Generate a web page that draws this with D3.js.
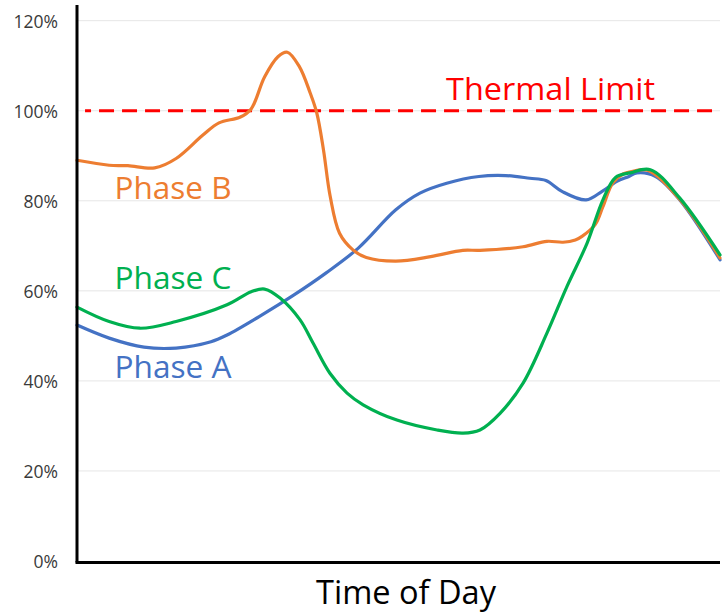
<!DOCTYPE html>
<html>
<head>
<meta charset="utf-8">
<script src="https://cdn.jsdelivr.net/npm/d3@7"></script>
<style>
  html, body { margin: 0; padding: 0; background: #fff; }
  svg { display: block; }
</style>
</head>
<body>
<div id="chart"></div>
<script>
// Load (% of rating) through the day as [hour, value]
const PHASE_A = [
  [0, 52.4], [1.2, 49.5], [2.5, 47.5], [3.7, 47.3], [5.0, 48.7], [5.6, 50.2],
  [6.8, 54.3], [8.1, 59.1], [9.3, 64.0], [10.5, 69.5], [11.9, 78.0], [12.8, 81.7],
  [13.8, 83.9], [15.0, 85.4], [16.0, 85.6], [16.9, 85.0], [17.5, 84.5], [18.1, 82.1],
  [19.0, 80.2], [19.6, 82.1], [20.15, 84.3], [20.6, 85.4], [20.9, 86.2], [21.6, 85.4],
  [22.5, 80.2], [24, 66.9]
];
const PHASE_B = [
  [0, 89.0], [1.2, 87.9], [1.9, 87.8], [2.9, 87.3], [3.7, 89.4], [4.7, 94.6],
  [5.3, 97.3], [6.1, 98.6], [6.5, 100.4], [7.0, 107.5], [7.5, 112.0], [7.85, 113.0],
  [8.3, 109.8], [8.7, 104.0], [8.95, 99.5], [9.2, 91.3], [9.45, 81.0], [9.8, 72.8],
  [10.3, 69.1], [10.8, 67.4], [11.9, 66.6], [13.2, 67.6], [14.4, 69.0], [15.04, 69.0],
  [16.65, 69.8], [17.54, 71.0], [18.14, 70.8], [18.6, 71.3], [18.85, 72.1], [19.34, 74.7],
  [19.63, 78.7], [20.0, 84.0], [20.4, 86.0], [20.7, 86.5], [21.3, 86.8], [22.5, 80.3],
  [24, 67.3]
];
const PHASE_C = [
  [0, 56.4], [1.2, 53.2], [2.35, 51.7], [3.7, 53.2], [5.6, 56.9], [6.5, 59.8],
  [7.0, 60.4], [7.58, 58.4], [8.32, 53.6], [8.81, 48.4], [9.44, 41.7], [10.08, 37.3],
  [10.68, 34.7], [11.94, 31.3], [13.44, 29.1], [14.41, 28.4], [15.04, 29.1], [15.79, 32.8],
  [16.65, 39.5], [17.54, 50.6], [18.29, 61.0], [19.04, 70.6], [19.63, 80.2], [20.1, 85.2],
  [20.64, 86.2], [21.4, 86.9], [22.5, 80.6], [24, 68.0]
];
const THERMAL_LIMIT = 100;
const Y_TICKS = [0, 20, 40, 60, 80, 100, 120];

// Series: id, label, colour and where its inline label sits (hour, value at baseline)
const SERIES = [
  { id: 'A', label: 'Phase A', color: '#4472C4', data: PHASE_A, labelAt: [1.4, 40.7] },
  { id: 'B', label: 'Phase B', color: '#ED7D31', data: PHASE_B, labelAt: [1.4, 80.4] },
  { id: 'C', label: 'Phase C', color: '#00B050', data: PHASE_C, labelAt: [1.4, 60.4] },
];

const W = 723, H = 613;
const margin = { top: 5, right: 3, bottom: 50, left: 77 };
const FONT = '"Open Sans", sans-serif';

const svg = d3.select('#chart').append('svg')
  .attr('width', W).attr('height', H);

const x = d3.scaleLinear().domain([0, 24]).range([margin.left, W - margin.right]);
const y = d3.scaleLinear().domain([0, 120]).range([561, 20.7]);

// Gridlines
svg.append('g')
  .selectAll('line')
  .data(Y_TICKS.filter(v => v > 0))
  .join('line')
  .attr('x1', x(0)).attr('x2', x(24))
  .attr('y1', d => y(d)).attr('y2', d => y(d))
  .attr('stroke', '#e6e6e6').attr('stroke-width', 1);

// Y tick labels
const yAxis = svg.append('g')
  .attr('transform', 'translate(58,0)')
  .call(d3.axisLeft(y).tickValues(Y_TICKS).tickSize(0).tickPadding(0).tickFormat(d => d + '%'));
yAxis.select('.domain').remove();
yAxis.selectAll('text')
  .attr('font-family', FONT).attr('font-size', 17.5)
  .attr('fill', '#3a3a3a')
  .attr('dy', '0.36em');

// Thermal limit
svg.append('line')
  .attr('x1', x(0.3)).attr('x2', x(24))
  .attr('y1', y(THERMAL_LIMIT)).attr('y2', y(THERMAL_LIMIT))
  .attr('stroke', '#FF0000').attr('stroke-width', 3.2)
  .attr('stroke-dasharray', '15,8')
  .attr('stroke-dashoffset', 9);

svg.append('text')
  .attr('x', 446).attr('y', y(THERMAL_LIMIT) - 11)
  .attr('font-family', FONT).attr('font-size', 31)
  .attr('fill', '#FF0000')
  .attr('textLength', 209).attr('lengthAdjust', 'spacingAndGlyphs')
  .text('Thermal Limit');

// Phase lines
const line = d3.line()
  .x(d => x(d[0]))
  .y(d => y(d[1]))
  .curve(d3.curveCatmullRom.alpha(0.5));

['A', 'B', 'C'].forEach(id => {
  const s = SERIES.find(r => r.id === id);
  svg.append('path').datum(s.data)
    .attr('d', line)
    .attr('fill', 'none')
    .attr('stroke', s.color)
    .attr('stroke-width', 3.2)
    .attr('stroke-linejoin', 'round')
    .attr('stroke-linecap', 'round');
});

// Inline labels
SERIES.forEach(s => {
  svg.append('text')
    .attr('x', x(s.labelAt[0])).attr('y', y(s.labelAt[1]))
    .attr('font-family', FONT).attr('font-size', 31.5)
    .attr('fill', s.color)
    .attr('textLength', 117).attr('lengthAdjust', 'spacingAndGlyphs')
    .text(s.label);
});

// Axes lines
svg.append('line')
  .attr('x1', x(0)).attr('x2', x(0))
  .attr('y1', margin.top).attr('y2', y(0) + 1.5)
  .attr('stroke', '#000').attr('stroke-width', 3);
svg.append('line')
  .attr('x1', x(0) - 1.5).attr('x2', x(24))
  .attr('y1', y(0) + 1.5).attr('y2', y(0) + 1.5)
  .attr('stroke', '#000').attr('stroke-width', 3);

// X axis title
svg.append('text')
  .attr('x', 406).attr('y', 604)
  .attr('text-anchor', 'middle')
  .attr('font-family', FONT).attr('font-size', 32)
  .attr('fill', '#000')
  .attr('textLength', 180).attr('lengthAdjust', 'spacingAndGlyphs')
  .text('Time of Day');
</script>
</body>
</html>
